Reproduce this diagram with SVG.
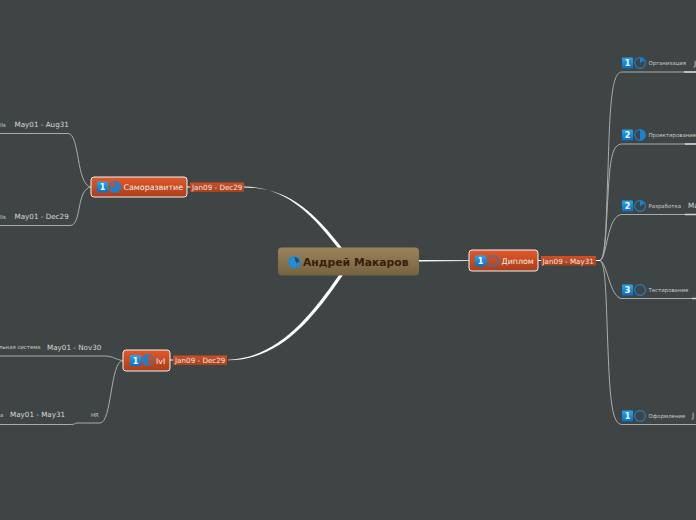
<svg xmlns="http://www.w3.org/2000/svg" width="696" height="520" viewBox="0 0 696 520">
<defs>
<linearGradient id="gRoot" x1="0" y1="0" x2="0" y2="1"><stop offset="0" stop-color="#9a845c"/><stop offset="1" stop-color="#75623f"/></linearGradient>
<linearGradient id="gNode" x1="0" y1="0" x2="0" y2="1"><stop offset="0" stop-color="#e2592a"/><stop offset="1" stop-color="#a93e1a"/></linearGradient>
<linearGradient id="gBadge" x1="0" y1="0" x2="0" y2="1"><stop offset="0" stop-color="#c9502a"/><stop offset="1" stop-color="#a8401f"/></linearGradient>
<linearGradient id="gNum" x1="0" y1="0" x2="0" y2="1"><stop offset="0" stop-color="#27a4f2"/><stop offset="1" stop-color="#0a6fc4"/></linearGradient>
</defs>
<style>
text{font-family:"DejaVu Sans","Liberation Sans",sans-serif}
.root{font-size:10.8px;font-weight:bold;fill:#3a1c0c}
.n{font-size:7.9px;fill:#f6eee8}
.d{font-size:7.2px;fill:#f5e6dc}
.l{font-size:5.4px;fill:#c9cccc}
.dt{font-size:7.2px;fill:#d5d8d8}
.num{font-size:8px;font-weight:bold;fill:#fff;text-anchor:middle}
.b{fill:url(#gNum)}
.p{fill:#1b82cf}
.r{fill:none;stroke:#1b82cf;stroke-width:1.1}
.c{fill:none;stroke:#a9acac;stroke-width:1}
.e{fill:none;stroke:#d4d6d6;stroke-width:1.6}
.w{fill:#fff}
</style>
<rect width="696" height="520" fill="#3f4545"/>
<g id="connectors">
<path class="w" d="M244 186.600C286 187 312 214 338 248L342 248C314 212 288 187.400 244 187.400Z"/>
<path class="w" d="M228 359.700C276 358 308 320 339 275L343 275C311 322 278 360.300 228 360.300Z"/>
<path class="w" d="M419 260L469 260.200L469 260.900L419 261.500Z"/>
<path class="c" style="stroke:#fff" d="M538 260.500H541M596 260.500H600"/>
<path class="c" style="stroke:#fff" d="M187 187H190M170 360H173"/>
<path class="c" d="M600 260.500C606 258 606 220 608 170C610 100 612 72 622 72H696"/>
<path class="c" d="M600 260.500C606 258 606 225 608 195C610 160 612 144 622 144H696"/>
<path class="c" d="M600 260.500C607 259 607 214.500 622 214.500H696"/>
<path class="c" d="M600 260.500C607 262 610 298.500 622 298.500H696"/>
<path class="c" d="M600 260.500C606 263 606 300 608 350C610 400 612 424.500 622 424.500H696"/>
<path class="e" d="M684 72H696M685 144H696M685 214.500H696M692 298.500H696"/>
<path class="c" d="M91 187C76 185 80 133.500 68 133.500H0"/>
<path class="c" d="M91 187C76 189 82 225.500 70 225.500H0"/>
<path class="c" d="M123 360.500C116 360 114 356 104 356H0"/>
<path class="c" d="M123 360.500C110 361 112 423 100 423H78C74 423 76 424.500 70 424.500H0"/>
</g>
<g id="root-node">
<rect x="278" y="247.500" width="141" height="28" rx="4" fill="url(#gRoot)"/>
<circle cx="294.500" cy="262" r="5.600" fill="#3f4545" stroke="#1f90e0" stroke-width="1.200"/>
<path class="p" style="fill:#1f90e0" d="M294.500 257A5 5 0 1 0 299.500 262L296 263Z"/>
<text class="root" x="303" y="266">Андрей Макаров</text>
</g>
<g id="node-self">
<rect x="91" y="177" width="96" height="20" rx="3" fill="url(#gNode)" stroke="#f2f2f2" stroke-width="1"/>
<rect class="b" x="97" y="181.500" width="11" height="11" rx="1"/><text class="num" x="102.500" y="190">1</text>
<circle class="r" cx="115" cy="187" r="5.400"/><path class="p" d="M115 187V181.800A5.200 5.200 0 1 1 109.800 187Z"/>
<text class="n" x="123.500" y="190">Саморазвитие</text>
</g>
<g id="badge-self"><rect x="190" y="182.500" width="54" height="9.500" fill="url(#gBadge)"/><text class="d" x="192" y="190.200">Jan09 - Dec29</text></g>
<g id="node-diploma">
<rect x="469" y="250" width="69" height="21" rx="3" fill="url(#gNode)" stroke="#f2f2f2" stroke-width="1"/>
<rect class="b" x="475" y="255.500" width="11" height="11" rx="1"/><text class="num" x="480.500" y="264">1</text>
<circle class="r" cx="493" cy="261" r="5.400"/>
<text class="n" x="501.500" y="264">Диплом</text>
</g>
<g id="badge-diploma"><rect x="541" y="256" width="55" height="9.500" fill="url(#gBadge)"/><text class="d" x="542.500" y="263.500">Jan09 - May31</text></g>
<g id="node-ivi">
<rect x="123" y="350" width="47" height="21" rx="3" fill="url(#gNode)" stroke="#f2f2f2" stroke-width="1"/>
<rect class="b" x="130" y="355" width="11" height="11" rx="1"/><text class="num" x="135.500" y="363.500">1</text>
<circle class="r" cx="148" cy="360" r="5.400"/><path class="p" d="M148 360V354.800A5.200 5.200 0 0 0 148 365.200Z"/>
<text class="n" x="156" y="363.500">IvI</text>
</g>
<g id="badge-ivi"><rect x="173" y="355.500" width="54" height="9.500" fill="url(#gBadge)"/><text class="d" x="175" y="363">Jan09 - Dec29</text></g>
<g id="task-org">
<rect class="b" x="622" y="57.500" width="11" height="11" rx="1"/><text class="num" x="627.500" y="66">1</text>
<circle class="r" cx="640" cy="63" r="5.400"/><path class="p" d="M640 63V57.800A5.200 5.200 0 0 1 644.500 60.400Z"/>
<text class="l" x="648.500" y="65">Организация</text><text class="dt" x="694" y="65.500">J</text>
</g>
<g id="task-design">
<rect class="b" x="622" y="129.500" width="11" height="11" rx="1"/><text class="num" x="627.500" y="138">2</text>
<circle class="r" cx="640" cy="135" r="5.400"/><path class="p" d="M640 135V129.800A5.200 5.200 0 0 1 640 140.200Z"/>
<text class="l" x="648.500" y="137">Проектирование</text>
</g>
<g id="task-dev">
<rect class="b" x="622" y="200.500" width="11" height="11" rx="1"/><text class="num" x="627.500" y="209">2</text>
<circle class="r" cx="640" cy="206" r="5.400"/><path class="p" d="M640 206V200.800A5.200 5.200 0 0 1 644.500 203.400Z"/>
<text class="l" x="648.500" y="208">Разработка</text><text class="dt" x="688" y="208">Ma</text>
</g>
<g id="task-test">
<rect class="b" x="622" y="284.500" width="11" height="11" rx="1"/><text class="num" x="627.500" y="293">3</text>
<circle class="r" cx="640" cy="290" r="5.400"/>
<text class="l" x="648.500" y="292">Тестирование</text>
</g>
<g id="task-doc">
<rect class="b" x="622" y="410.500" width="11" height="11" rx="1"/><text class="num" x="627.500" y="419">1</text>
<circle class="r" cx="640" cy="416" r="5.400"/>
<text class="l" x="648.500" y="418">Оформление</text><text class="dt" x="692" y="418">J</text>
</g>
<g id="left-1"><text class="l" x="0" y="127">lls</text><text class="dt" x="14.500" y="127">May01 - Aug31</text></g>
<g id="left-2"><text class="l" x="0" y="218.500">lls</text><text class="dt" x="14.500" y="218.500">May01 - Dec29</text></g>
<g id="left-3"><text class="l" x="-1" y="349">льная система</text><text class="dt" x="47" y="350">May01 - Nov30</text></g>
<g id="left-4"><text class="l" x="0" y="416.500">a</text><text class="dt" x="10" y="417">May01 - May31</text><text class="l" x="91" y="417">HR</text></g>
</svg>
